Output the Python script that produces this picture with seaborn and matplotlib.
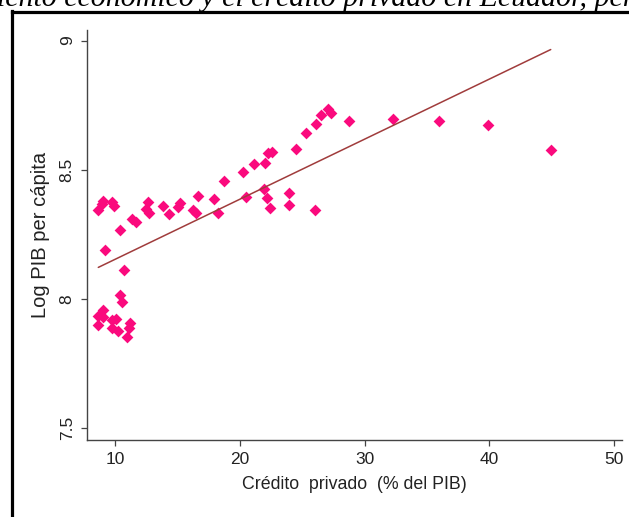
import matplotlib
matplotlib.use("Agg")
import matplotlib.pyplot as plt
from matplotlib.lines import Line2D
import numpy as np
import pandas as pd
import seaborn as sns

# Private credit (% of GDP)
credito = [8.62, 8.62, 9.02, 9.02, 9.70, 10.04, 9.70, 10.22, 10.90, 11.16,
           11.11, 10.36, 10.50, 10.71, 9.16, 8.62, 8.89, 9.02, 9.70, 9.92,
           10.36, 11.30, 11.65, 12.63, 12.41, 12.71, 13.84, 14.33, 15.04, 15.18,
           16.24, 16.46, 16.65, 17.92, 18.19, 18.71, 20.27, 21.10, 22.00, 20.46,
           21.90, 22.13, 22.40, 22.26, 22.54, 23.91, 23.91, 24.49, 25.29, 26.08,
           26.47, 27.08, 27.26, 28.74, 32.30, 35.99, 39.92, 44.93, 26.01]
# Log GDP per capita
log_pib = [7.934, 7.901, 7.959, 7.929, 7.918, 7.922, 7.886, 7.877, 7.852, 7.905,
           7.887, 8.015, 7.989, 8.112, 8.191, 8.346, 8.369, 8.381, 8.376, 8.360,
           8.267, 8.309, 8.298, 8.377, 8.348, 8.332, 8.360, 8.328, 8.357, 8.373,
           8.346, 8.332, 8.399, 8.387, 8.332, 8.458, 8.493, 8.521, 8.525, 8.393,
           8.424, 8.390, 8.351, 8.564, 8.570, 8.409, 8.364, 8.579, 8.641, 8.678,
           8.713, 8.737, 8.719, 8.689, 8.696, 8.690, 8.674, 8.577, 8.344]

x_ticks = [10, 20, 30, 40, 50]
x_tick_labels = ["10", "20", "30", "40", "50"]
y_ticks = [7.5, 8, 8.5, 9]
y_tick_labels = ["7.5", "8", "8.5", "9"]

titulo = "iento económico y el crédito privado en Ecuador, per"
x_label = "Crédito  privado  (% del PIB)"
y_label = "Log PIB per cápita"

df = pd.DataFrame({"credito": credito, "log_pib": log_pib})

sns.set_style("white")
plt.rcParams["font.family"] = ["Liberation Sans", "DejaVu Sans"]

W, H = 629, 517
fig = plt.figure(figsize=(W / 100, H / 100), dpi=100)
ax = fig.add_axes([87.2 / W, 1 - 440 / H, (622 - 87.2) / W, (440 - 30) / H])

sns.regplot(data=df, x="credito", y="log_pib", ax=ax, ci=None, truncate=True,
            marker="D",
            scatter_kws=dict(s=36, color="#fa0a7d", linewidths=0, alpha=1),
            line_kws=dict(color="#a03c3c", linewidth=1.1))

ax.set_xlim(7.73, 50.65)
ax.set_ylim(7.454, 9.041)
ax.set_xticks(x_ticks)
ax.set_xticklabels(x_tick_labels, fontsize=12.5, color="#222222")
ax.set_yticks(y_ticks)
ax.set_yticklabels(y_tick_labels, fontsize=12.5, color="#222222", rotation=90,
                   va="center")
ax.set_xlabel(x_label, fontsize=12.8, color="#222222", labelpad=6)
ax.set_ylabel(y_label, fontsize=14.5, color="#222222", labelpad=7)

for side in ["top", "right"]:
    ax.spines[side].set_visible(False)
for side in ["left", "bottom"]:
    ax.spines[side].set_color("#444444")
    ax.spines[side].set_linewidth(1.0)
ax.tick_params(axis="both", direction="out", length=4, width=0.9,
               color="#444444", left=True, bottom=True)
ax.tick_params(axis="x", pad=5)
ax.tick_params(axis="y", pad=5)
ax.grid(False)

# outer frame (cut at the right and bottom edges)
fig.add_artist(Line2D([11.8 / W, 11.8 / W], [0, 1 - 11 / H],
                      transform=fig.transFigure, color="black", linewidth=2.3,
                      solid_capstyle="projecting"))
fig.add_artist(Line2D([11.8 / W, 1.0], [1 - 11.8 / H, 1 - 11.8 / H],
                      transform=fig.transFigure, color="black", linewidth=2.3,
                      solid_capstyle="projecting"))

# title (mostly cut off at the top, as in the reference)
fig.text(-3 / W, 1 - 6.0 / H, titulo, family=["Liberation Serif", "DejaVu Serif"],
         style="italic", fontsize=21.5, ha="left", va="baseline", color="black")

fig.savefig("out.png", dpi=100)
